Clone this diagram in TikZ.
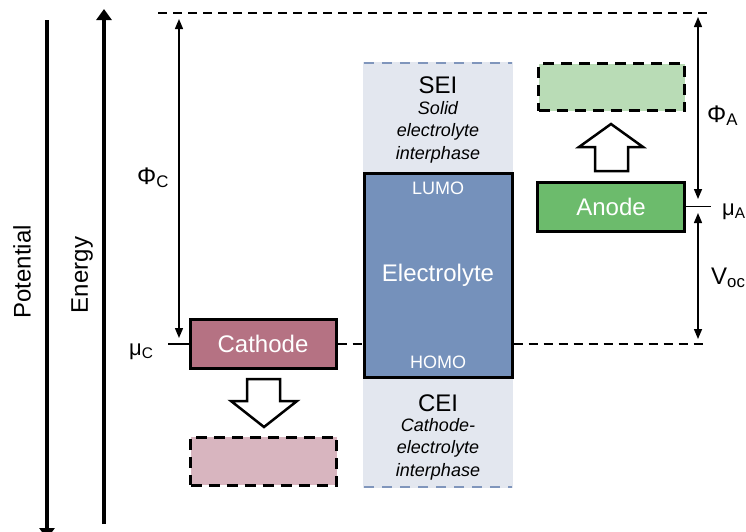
\documentclass[tikz,border=0pt]{standalone}
\usepackage{fontspec}
\setmainfont{Liberation Sans}
\usetikzlibrary{arrows.meta}
\definecolor{cath}{RGB}{181,114,131}
\definecolor{cathlight}{RGB}{216,181,191}
\definecolor{elec}{RGB}{117,145,187}
\definecolor{elecbg}{RGB}{227,231,239}
\definecolor{elecdash}{RGB}{128,150,188}
\definecolor{anod}{RGB}{108,187,108}
\definecolor{anodlight}{RGB}{185,220,182}
\begin{document}
\begin{tikzpicture}[x=1pt,y=-1pt,
  solidbox/.style={draw=black, line width=3pt, inner sep=0pt, text=white,
    font=\fontsize{24}{28}\selectfont},
  dashbox/.style={draw=black, line width=3pt, dash pattern=on 11pt off 7pt, inner sep=0pt},
  levelline/.style={line width=1.8pt, dash pattern=on 9pt off 6pt},
  dimarrow/.style={line width=1.4pt, {Triangle[width=8pt,length=10pt]}-{Triangle[width=8pt,length=10pt]}},
  axisarrow/.style={line width=3.2pt, -{Triangle[width=15pt,length=11pt]}},
  blockarrow/.style={draw=black, fill=white, line width=2.5pt, line join=miter},
  biglabel/.style={font=\fontsize{24}{28}\selectfont, inner sep=0pt},
  smalllabel/.style={font=\fontsize{18}{22}\selectfont, inner sep=0pt},
  sidelabel/.style={font=\fontsize{22}{26}\selectfont, inner sep=0pt, anchor=base west}
]
\useasboundingbox (0,0) rectangle (746,531);
\fill[white] (0,0) rectangle (746,531);

% axes
\coordinate (potTop) at (47,20);
\coordinate (potBot) at (47,539);
\coordinate (enBot) at (104,524);
\coordinate (enTop) at (104,9);
\draw[axisarrow] (potTop) -- (potBot);
\draw[axisarrow] (enBot) -- (enTop);
\node[biglabel, rotate=90] (potential) at (22,272) {Potential};
\node[biglabel, rotate=90] (energy) at (82,275) {Energy};

% electrolyte background (interphases)
\fill[elecbg] (363,62) rectangle (513,488);
\coordinate (bgTL) at (364,63);
\coordinate (bgTR) at (512,63);
\coordinate (bgBL) at (364,487);
\coordinate (bgBR) at (512,487);
\draw[elecdash, line width=2pt, dash pattern=on 10pt off 8pt] (bgTL) -- (bgTR);
\draw[elecdash, line width=2pt, dash pattern=on 10pt off 8pt] (bgBL) -- (bgBR);

% reference levels
\coordinate (topL) at (158,13);
\coordinate (topR) at (712,13);
\draw[levelline] (topL) -- (topR);

% boxes
\node[solidbox, fill=cath, minimum width=146, minimum height=49] (cathode) at (263,344) {Cathode};
\node[dashbox, fill=cathlight, minimum width=146, minimum height=48] (cathodeNew) at (263.5,461) {};
\node[solidbox, fill=anod, minimum width=147, minimum height=49] (anode) at (611,206.5) {Anode};
\node[dashbox, fill=anodlight, minimum width=146, minimum height=47] (anodeNew) at (611.5,87) {};
\node[solidbox, fill=elec, minimum width=148, minimum height=204] (electrolyte) at (438,275.5) {};
\node[solidbox, draw=none] (elecText) at (438,275) {Electrolyte};
\node[smalllabel, text=white] (lumo) at (438,188) {LUMO};
\node[smalllabel, text=white] (homo) at (438,362) {HOMO};

% interphase labels
\node[biglabel] (sei) at (438,85) {SEI};
\node[smalllabel, align=center, font=\fontsize{18}{22.5}\selectfont\itshape] (seiText) at (438,132) {Solid\\electrolyte\\interphase};
\node[biglabel] (cei) at (438,403) {CEI};
\node[smalllabel, align=center, font=\fontsize{18}{22.5}\selectfont\itshape] (ceiText) at (438,449) {Cathode-\\electrolyte\\interphase};

% Fermi levels
\coordinate (botR) at (705,344);
\draw[levelline] (cathode.east) -- (electrolyte.west |- cathode.east);
\draw[levelline] (electrolyte.east |- cathode.east) -- (botR);
\coordinate (muCL) at (168,344);
\draw[line width=1.5pt] (muCL) -- (cathode.west);
\coordinate (muAR) at (711,206.5);
\draw[line width=1.5pt] (anode.east) -- (muAR);

% dimension arrows
\coordinate (phiCtop) at (179,19);
\coordinate (phiCbot) at (179,338);
\draw[dimarrow] (phiCtop) -- (phiCbot);
\coordinate (phiAtop) at (698,17);
\coordinate (phiAbot) at (698,199);
\draw[dimarrow] (phiAtop) -- (phiAbot);
\coordinate (vocTop) at (698,213);
\coordinate (vocBot) at (698,339);
\draw[dimarrow] (vocTop) -- (vocBot);

% labels
\node[sidelabel, font=\fontsize{24}{28}\selectfont] (phiC) at (137,184) {Φ\textsubscript{C}};
\node[sidelabel] (muC) at (129,355) {μ\textsubscript{C}};
\node[sidelabel, font=\fontsize{24}{28}\selectfont] (phiA) at (707,122) {Φ\textsubscript{A}};
\node[sidelabel] (muA) at (722,215) {μ\textsubscript{A}};
\node[sidelabel, font=\fontsize{24}{28}\selectfont] (voc) at (711,284) {V\textsubscript{oc}};

% block arrows
\draw[blockarrow] (247,379) -- (280,379) -- (280,401) -- (297,401) -- (264,427) -- (231,401) -- (247,401) -- cycle;
\draw[blockarrow] (595,171) -- (628,171) -- (628,147) -- (643,147) -- (611,124) -- (579,147) -- (595,147) -- cycle;
\end{tikzpicture}
\end{document}
